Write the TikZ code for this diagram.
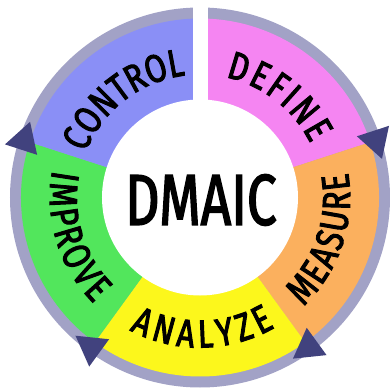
\documentclass[tikz,border=0pt]{standalone}
\usepackage{fontspec}
\setmainfont{Fira Sans}
\newfontfamily\ringfont[FakeStretch=0.8,FakeBold=2.5]{Fira Sans}
\newfontfamily\hubfont[FakeStretch=0.74,FakeBold=2]{Fira Sans}
\usepackage{tikz}
\usetikzlibrary{decorations.text}
\usepackage{xcolor}
\definecolor{ringgrey}{HTML}{A2A2C6}
\definecolor{defpink}{HTML}{F585F2}
\definecolor{measorange}{HTML}{FBB05E}
\definecolor{anayellow}{HTML}{FCF71C}
\definecolor{impgreen}{HTML}{52E65C}
\definecolor{ctrlblue}{HTML}{8A8FF6}
\definecolor{arrowblue}{HTML}{41427E}
\newcommand\labfont{\ringfont\fontsize{39}{39}\selectfont}

\begin{document}
\begin{tikzpicture}[x=1pt,y=1pt,
  lbl/.style={decorate,decoration={text along path,text align=fit to path,text={|\labfont|#1}}},
  tri/.style={fill=arrowblue}]
\useasboundingbox (-200,-192.5) rectangle (190,197.5);
% grey band behind the phases
\fill[ringgrey] (0,0) circle (190);
% the five phases
\fill[defpink] (0,0) -- (90:179) arc[start angle=90,end angle=18,radius=179] -- cycle;
\fill[measorange] (0,0) -- (18:179) arc[start angle=18,end angle=-54,radius=179] -- cycle;
\fill[anayellow] (0,0) -- (-54:179) arc[start angle=-54,end angle=-126,radius=179] -- cycle;
\fill[impgreen] (0,0) -- (234:179) arc[start angle=234,end angle=162,radius=179] -- cycle;
\fill[ctrlblue] (0,0) -- (162:179) arc[start angle=162,end angle=90,radius=179] -- cycle;
\fill[white] (0,0) circle (98);
% break at the top
\fill[white] (-7,90) rectangle (8,200);
% arrow heads
\foreach \a in {18,162,234,306}
  \fill[tri,shift={(\a:185)}] (\a+30:19.5) -- (\a+150:19.5) -- (\a+270:19.5) -- cycle;
% labels
\path[lbl=CONTROL] (158.5:123) arc[start angle=158.5,end angle=99,radius=123];
\path[lbl=DEFINE] (78:123) arc[start angle=78,end angle=26,radius=123];
\path[lbl=MEASURE] (313.5:150) arc[start angle=313.5,end angle=369.5,radius=150];
\path[lbl=ANALYZE] (242:150) arc[start angle=242,end angle=300,radius=150];
\path[lbl=IMPROVE] (169.5:150) arc[start angle=169.5,end angle=225,radius=150];
\node[font=\hubfont\fontsize{72}{72}\selectfont,inner sep=0] (hub) at (1,-2.5) {DMAIC};
\end{tikzpicture}
\end{document}
